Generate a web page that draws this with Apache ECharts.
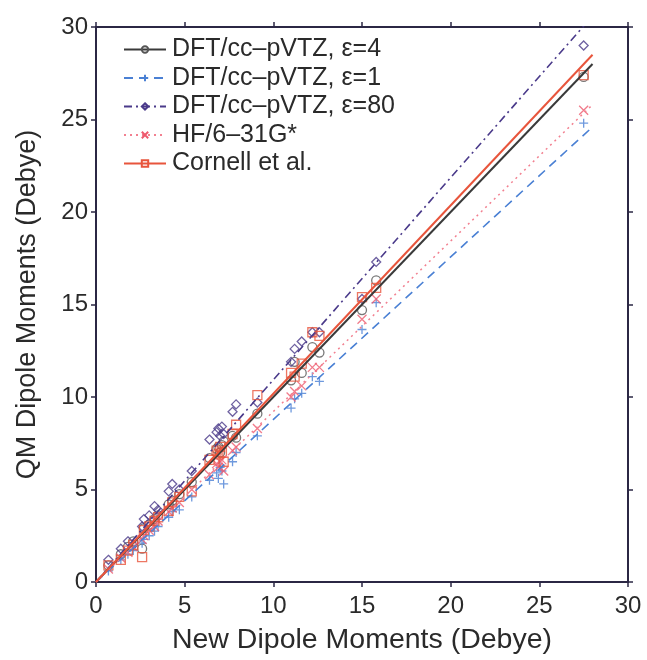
<!DOCTYPE html>
<html>
<head>
<meta charset="utf-8">
<script src="https://cdn.jsdelivr.net/npm/echarts@6/dist/echarts.min.js"></script>
<style>
  html, body { margin: 0; padding: 0; background: #fff; }
  #chart { width: 647px; height: 660px; }
</style>
</head>
<body>
<div id="chart"></div>
<script>
// new dipole moments (x), one per molecule
const newDipole = [0.7, 1.4, 1.8, 2.1, 2.6, 2.7, 3.0, 3.3, 3.5, 4.1, 4.3, 4.7, 5.4, 6.4, 6.8,
  6.9, 7.0, 7.1, 7.2, 7.7, 7.9, 9.1, 11.0, 11.2, 11.6, 12.2, 12.6, 15.0, 15.8, 27.5];

// QM dipole moments per method (y)
const dftEps4 = [0.9, 1.5, 1.9, 2.2, 1.8, 2.9, 3.1, 3.4, 3.6, 4.2, 4.4, 4.75, 5.4, 6.7, 7.2,
  7.3, 7.0, 7.4, 7.6, 7.9, 7.8, 9.1, 10.9, 11.9, 11.3, 12.7, 12.4, 14.7, 16.3, 27.3];
const dftEps1 = [0.6, 1.2, 1.5, 1.7, 2.1, 2.3, 2.5, 2.75, 3.0, 3.5, 3.8, 3.9, 4.6, 5.5, 5.9,
  5.6, 6.2, 6.0, 5.3, 6.5, 7.0, 7.9, 9.4, 9.9, 10.2, 11.1, 10.85, 13.65, 15.1, 24.8];
const dftEps80 = [1.2, 1.8, 2.2, 2.0, 3.0, 3.4, 3.6, 4.1, 3.9, 4.9, 5.3, 5.0, 6.0, 7.7, 8.1,
  8.3, 7.9, 8.4, 8.0, 9.2, 9.6, 9.7, 11.9, 12.6, 13.0, 13.5, 13.5, 15.3, 17.3, 29.0];
const hf631 = [0.7, 1.3, 1.6, 1.9, 2.3, 2.5, 2.8, 3.0, 3.3, 3.8, 4.0, 4.3, 5.0, 5.8, 6.4,
  6.2, 6.5, 6.6, 6.0, 7.1, 7.3, 8.3, 10.0, 10.3, 10.6, 11.6, 11.6, 14.2, 15.3, 25.5];
const cornell = [0.9, 1.2, 1.7, 2.0, 1.35, 2.8, 3.0, 3.3, 3.5, 3.85, 4.3, 4.6, 4.9, 6.6, 7.1,
  6.9, 7.3, 7.0, 6.5, 8.0, 8.5, 10.1, 11.3, 11.1, 11.8, 13.5, 13.3, 15.4, 15.9, 27.4];

// fitted lines: end points
const fitX = [0, 28];
const fitEps4 = [0, 28.0];
const fitEps1 = [0, 24.6];
const fitEps80 = [0, 30.6];
const fitHf = [0, 25.8];
const fitCornell = [0, 28.5];

const ticks = [0, 5, 10, 15, 20, 25, 30];

const plusPath = "path://M5,0 L5,10 M0,5 L10,5";
const crossPath = "path://M0,0 L10,10 M10,0 L0,10";

const methods = [
  { name: "DFT/cc\u2013pVTZ, \u03b5=4", ys: dftEps4, fit: fitEps4, color: "#3a3a3a", pt: "#555", dash: "solid", symbol: "circle", w: 2 },
  { name: "DFT/cc\u2013pVTZ, \u03b5=1", ys: dftEps1, fit: fitEps1, color: "#4a80d4", pt: "#4a80d4", dash: [9, 6], symbol: plusPath, w: 1.6 },
  { name: "DFT/cc\u2013pVTZ, \u03b5=80", ys: dftEps80, fit: fitEps80, color: "#4a3a8a", pt: "#4a3a8a", dash: [8, 4, 2, 4], symbol: "diamond", w: 1.6 },
  { name: "HF/6\u201331G*", ys: hf631, fit: fitHf, color: "#f28090", pt: "#ee5a6e", dash: [2, 4], symbol: crossPath, w: 1.5 },
  { name: "Cornell et al.", ys: cornell, fit: fitCornell, color: "#e8553c", pt: "#e8553c", dash: "solid", symbol: "rect", w: 2 },
];

const zip = (a, b) => a.map((v, i) => [v, b[i]]);
const font = "Liberation Sans, Arial, sans-serif";

const series = [];
// line series first so the legend icon shows the line style
methods.forEach((m) => {
  series.push({
    name: m.name,
    type: "line",
    data: zip(fitX, m.fit),
    showSymbol: false,
    symbol: m.symbol,
    symbolSize: 9,
    clip: true,
    silent: true,
    lineStyle: { color: m.color, width: m.w, type: m.dash },
    itemStyle: { color: "rgba(0,0,0,0)", borderColor: m.pt, borderWidth: 1.2 },
    z: 3,
  });
});
methods.forEach((m) => {
  series.push({
    name: m.name,
    type: "scatter",
    data: zip(newDipole, m.ys),
    symbol: m.symbol,
    symbolSize: 9,
    itemStyle: { color: "rgba(0,0,0,0)", borderColor: m.pt, borderWidth: 1.3 },
    z: 2,
  });
});

const axisColor = "#2b2744";
const baseAxis = {
  type: "value",
  min: 0,
  max: 30,
  interval: 5,
  splitLine: { show: false },
  axisLine: { show: true, onZero: false, lineStyle: { color: axisColor, width: 2 } },
  axisTick: { show: true, inside: false, length: 5, lineStyle: { color: axisColor, width: 1.5 } },
};

const chart = echarts.init(document.getElementById("chart"));
chart.setOption({
  animation: false,
  backgroundColor: "#fff",
  grid: { left: 96, right: 19, top: 27, bottom: 77 },
  legend: {
    orient: "vertical",
    left: 118,
    top: 32,
    itemWidth: 42,
    itemHeight: 8,
    itemGap: 3.5,
    data: methods.map((m) => m.name),
    textStyle: { fontFamily: font, fontSize: 25, color: "#2a2a2a", padding: [0, 0, 0, 1] },
  },
  xAxis: [
    {
      ...baseAxis,
      position: "bottom",
      name: "New Dipole Moments (Debye)",
      nameLocation: "middle",
      nameGap: 44,
      nameTextStyle: { fontFamily: font, fontSize: 28.5, color: "#2a2a2a" },
      axisLabel: {
        margin: 12,
        fontFamily: font,
        fontSize: 24,
        color: "#2a2a2a",
        formatter: (v) => (ticks.includes(v) ? String(v) : ""),
      },
    },
    { ...baseAxis, position: "top", axisLabel: { show: false } },
  ],
  yAxis: [
    {
      ...baseAxis,
      position: "left",
      name: "QM Dipole Moments (Debye)",
      nameLocation: "middle",
      nameGap: 55,
      nameTextStyle: { fontFamily: font, fontSize: 27, color: "#2a2a2a" },
      axisLabel: {
        margin: 8,
        fontFamily: font,
        fontSize: 24,
        color: "#2a2a2a",
      },
    },
    { ...baseAxis, position: "right", axisLabel: { show: false } },
  ],
  series,
});
</script>
</body>
</html>
